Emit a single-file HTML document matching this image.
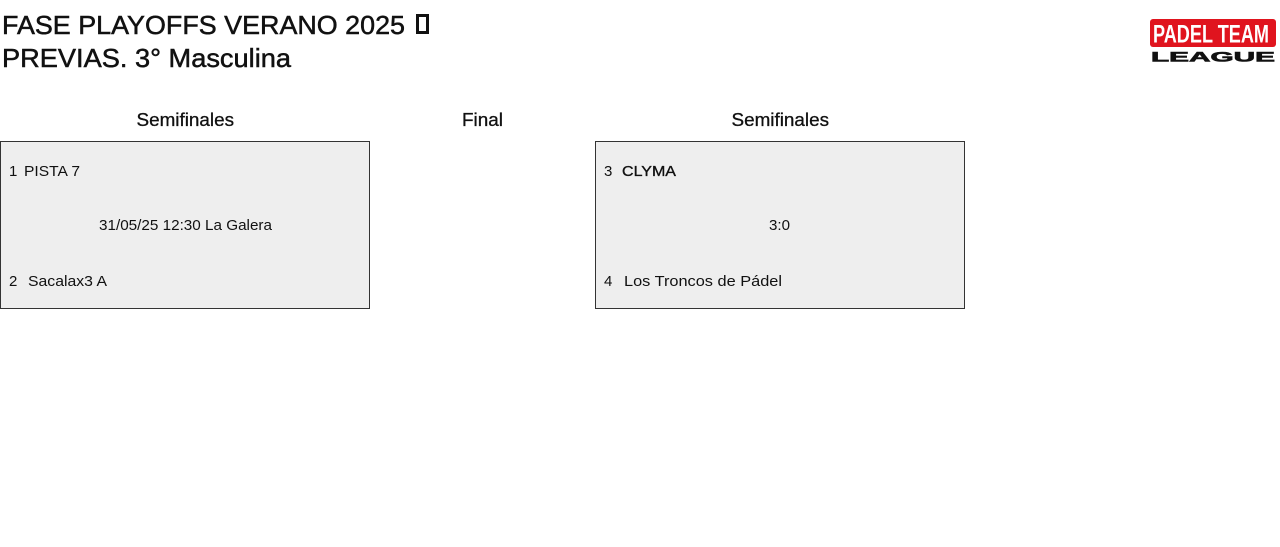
<!DOCTYPE html>
<html>
<head>
<meta charset="utf-8">
<style>
  html,body{margin:0;padding:0;background:#fff;}
  body{width:1280px;height:547px;overflow:hidden;}
  svg{display:block;}
  text{font-family:"Liberation Sans","DejaVu Sans",sans-serif;fill:#111;}
</style>
</head>
<body>
<svg width="1280" height="547" viewBox="0 0 1280 547" xmlns="http://www.w3.org/2000/svg">
  <!-- Title -->
  <text x="2" y="34" font-size="26" textLength="403" lengthAdjust="spacingAndGlyphs" stroke="#111" stroke-width="0.5">FASE PLAYOFFS VERANO 2025</text>
  <rect x="417.5" y="15.5" width="10" height="17" fill="none" stroke="#111" stroke-width="3"/>
  <text x="2" y="67" font-size="26" textLength="289" lengthAdjust="spacingAndGlyphs" stroke="#111" stroke-width="0.5">PREVIAS. 3° Masculina</text>

  <!-- Logo -->
  <rect x="1150" y="19" width="126" height="28" rx="3" ry="3" fill="#e0141e"/>
  <text x="1153" y="42.5" font-size="25" font-weight="bold" textLength="116" lengthAdjust="spacingAndGlyphs" style="fill:#fff">PADEL TEAM</text>
  <text x="1151" y="61.5" font-size="13.5" font-weight="bold" textLength="124" lengthAdjust="spacingAndGlyphs" stroke="#111" stroke-width="0.6">LEAGUE</text>

  <!-- Round headings -->
  <text x="136.5" y="126" font-size="18" textLength="97.5" lengthAdjust="spacingAndGlyphs" stroke="#111" stroke-width="0.3">Semifinales</text>
  <text x="462" y="126" font-size="18" textLength="41" lengthAdjust="spacingAndGlyphs" stroke="#111" stroke-width="0.3">Final</text>
  <text x="731.5" y="126" font-size="18" textLength="97.5" lengthAdjust="spacingAndGlyphs" stroke="#111" stroke-width="0.3">Semifinales</text>

  <!-- Left match box -->
  <rect x="0.5" y="141.5" width="369" height="167" fill="#eeeeee" stroke="#333" stroke-width="1"/>
  <text x="9" y="176" font-size="15">1</text>
  <text x="24" y="176" font-size="15" textLength="56" lengthAdjust="spacingAndGlyphs">PISTA 7</text>
  <text x="99" y="230" font-size="15" textLength="173" lengthAdjust="spacingAndGlyphs">31/05/25 12:30 La Galera</text>
  <text x="9" y="286" font-size="15">2</text>
  <text x="28" y="286" font-size="15" textLength="79" lengthAdjust="spacingAndGlyphs">Sacalax3 A</text>

  <!-- Right match box -->
  <rect x="595.5" y="141.5" width="369" height="167" fill="#eeeeee" stroke="#333" stroke-width="1"/>
  <text x="604" y="176" font-size="15">3</text>
  <text x="622" y="176" font-size="15" textLength="54" lengthAdjust="spacingAndGlyphs" stroke="#111" stroke-width="0.35">CLYMA</text>
  <text x="769" y="230" font-size="15" textLength="21" lengthAdjust="spacingAndGlyphs">3:0</text>
  <text x="604" y="286" font-size="15">4</text>
  <text x="624" y="286" font-size="15" textLength="158" lengthAdjust="spacingAndGlyphs">Los Troncos de Pádel</text>
</svg>
</body>
</html>
